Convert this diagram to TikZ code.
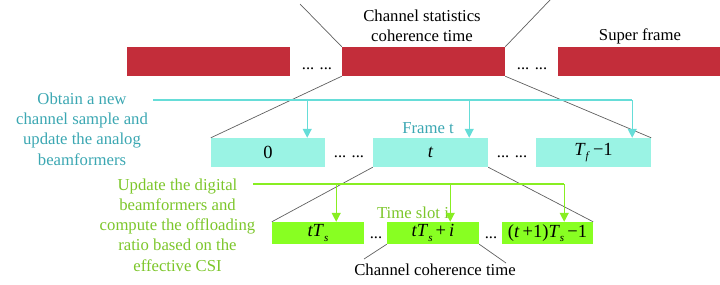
\documentclass[tikz,border=0pt]{standalone}
\usepackage{fontspec}
\setmainfont{Liberation Serif}
\usetikzlibrary{arrows.meta,calc}
\definecolor{barred}{HTML}{C32D3A}
\definecolor{cyanbox}{HTML}{9AF3E4}
\definecolor{cyanline}{HTML}{66DDD8}
\definecolor{cyantext}{HTML}{3BA7B2}
\definecolor{greenbox}{HTML}{88FF22}
\definecolor{greenline}{HTML}{88EE22}
\definecolor{greentext}{HTML}{7CC62A}
\definecolor{grayline}{HTML}{606060}
\newcommand{\lowsub}[1]{\raisebox{-0.5ex}{\fontsize{11}{11}\selectfont\textit{#1}}}
\begin{document}
\begin{tikzpicture}[x=1pt,y=-1pt,
  txt/.style={font=\fontsize{16.7}{20.2}\selectfont, inner sep=0, align=center},
  mathlbl/.style={font=\fontsize{18.5}{20}\selectfont, inner sep=0},
  redbar/.style={fill=barred, draw=none, inner sep=0, minimum height=29pt},
  cyanrect/.style={fill=cyanbox, draw=none, inner sep=0, minimum height=29pt},
  greenrect/.style={fill=greenbox, draw=none, inner sep=0, minimum height=22pt},
  zoomline/.style={draw=grayline, line width=0.7pt},
  cyanarrow/.style={draw=cyanline, line width=1.3pt, -{Triangle[width=9pt,length=9pt]}},
  greenarrow/.style={draw=greenline, line width=1.3pt, -{Triangle[width=9pt,length=9pt]}},
  dots/.style={font=\fontsize{16.5}{20}\selectfont, inner sep=0, anchor=base}
]
\useasboundingbox (0,0) rectangle (720,284);

% super frame bars
\node[redbar, minimum width=163pt] (r1) at (208.5,61.5) {};
\node[redbar, minimum width=163pt] (r2) at (423.5,61.5) {};
\node[redbar, minimum width=162pt] (r3) at (639,61.5) {};
\node[dots] (d1) at (317,69) {... ...};
\node[dots] (d2) at (532,69) {... ...};
\node[txt] (cst) at (422,26) {Channel statistics\\coherence time};
\node[txt] (sf) at (640,36) {Super frame};

\coordinate (t1) at (300,4);
\coordinate (t2) at (550,0);
\draw[zoomline] (r2.north west) -- (t1);
\draw[zoomline] (r2.north east) -- (t2);

% frame boxes
\node[cyanrect, minimum width=114pt] (c1) at (268,152.5) {};
\node[cyanrect, minimum width=115pt] (c2) at (430.5,152.5) {};
\node[cyanrect, minimum width=115pt] (c3) at (593.5,152.5) {};
\node[mathlbl] (l1) at (c1) {0};
\node[mathlbl] (l2) at (c2) {\textit{t}};
\node[mathlbl] (l3) at (c3) {\textit{T}\lowsub{f}\,−1};
\node[dots] (d3) at (349,157) {... ...};
\node[dots] (d4) at (512,157) {... ...};
\node[txt, text=cyantext] (ft) at (428,128) {Frame t};

\draw[zoomline] (r2.south west) -- (c1.north west);
\draw[zoomline] (r2.south east) -- (c3.north east);

% time slot boxes
\node[greenrect, minimum width=92pt] (g1) at (318,233) {};
\node[greenrect, minimum width=92pt] (g2) at (433,233) {};
\node[greenrect, minimum width=91pt] (g3) at (547.5,233) {};
\node[mathlbl] (m1) at (g1) {\textit{tT}\lowsub{s}};
\node[mathlbl] (m2) at (g2) {\textit{tT}\lowsub{s}\,+\,\textit{i}};
\node[mathlbl] (m3) at (g3) {(\textit{t}\,+1)\textit{T}\lowsub{s}\,−1};
\node[dots] (d5) at (376,238) {...};
\node[dots] (d6) at (491,238) {...};
\node[txt, text=greentext] (ts) at (413,213) {Time slot i};

\draw[zoomline] (c2.south west) -- (g1.north west);
\draw[zoomline] (c2.south east) -- (g3.north east);

\node[txt] (cct) at (435,270) {Channel coherence time};
\coordinate (b1) at (364,259);
\coordinate (b2) at (506,263);
\draw[zoomline] (g2.south west) -- (b1);
\draw[zoomline] (g2.south east) -- (b2);

% cyan annotation
\node[txt, text=cyantext] (ctext) at (82,129) {Obtain a new\\channel sample and\\update the analog\\beamformers};
\coordinate (cs) at (153,100);
\coordinate (ca1) at ($(c1.north east)+(-18,0)$);
\coordinate (ca2) at ($(c2.north east)+(-19,0)$);
\coordinate (ca3) at ($(c3.north east)+(-19,0)$);
\draw[draw=cyanline, line width=1.3pt] (cs) -- (ca3 |- cs);
\draw[cyanarrow] (ca1 |- cs) -- (ca1);
\draw[cyanarrow] (ca2 |- cs) -- (ca2);
\draw[cyanarrow] (ca3 |- cs) -- (ca3);

% green annotation
\node[txt, text=greentext] (gtext) at (177.5,225) {Update the digital\\beamformers and\\compute the offloading\\ratio based on the\\effective CSI};
\coordinate (gs) at (253,184);
\coordinate (ga1) at ($(g1.north east)+(-28,0)$);
\coordinate (ga2) at ($(g2.north east)+(-29,0)$);
\coordinate (ga3) at ($(g3.north east)+(-29,0)$);
\draw[draw=greenline, line width=1.3pt] (gs) -- (ga3 |- gs);
\draw[greenarrow] (ga1 |- gs) -- (ga1);
\draw[greenarrow] (ga2 |- gs) -- (ga2);
\draw[greenarrow] (ga3 |- gs) -- (ga3);
\end{tikzpicture}
\end{document}
